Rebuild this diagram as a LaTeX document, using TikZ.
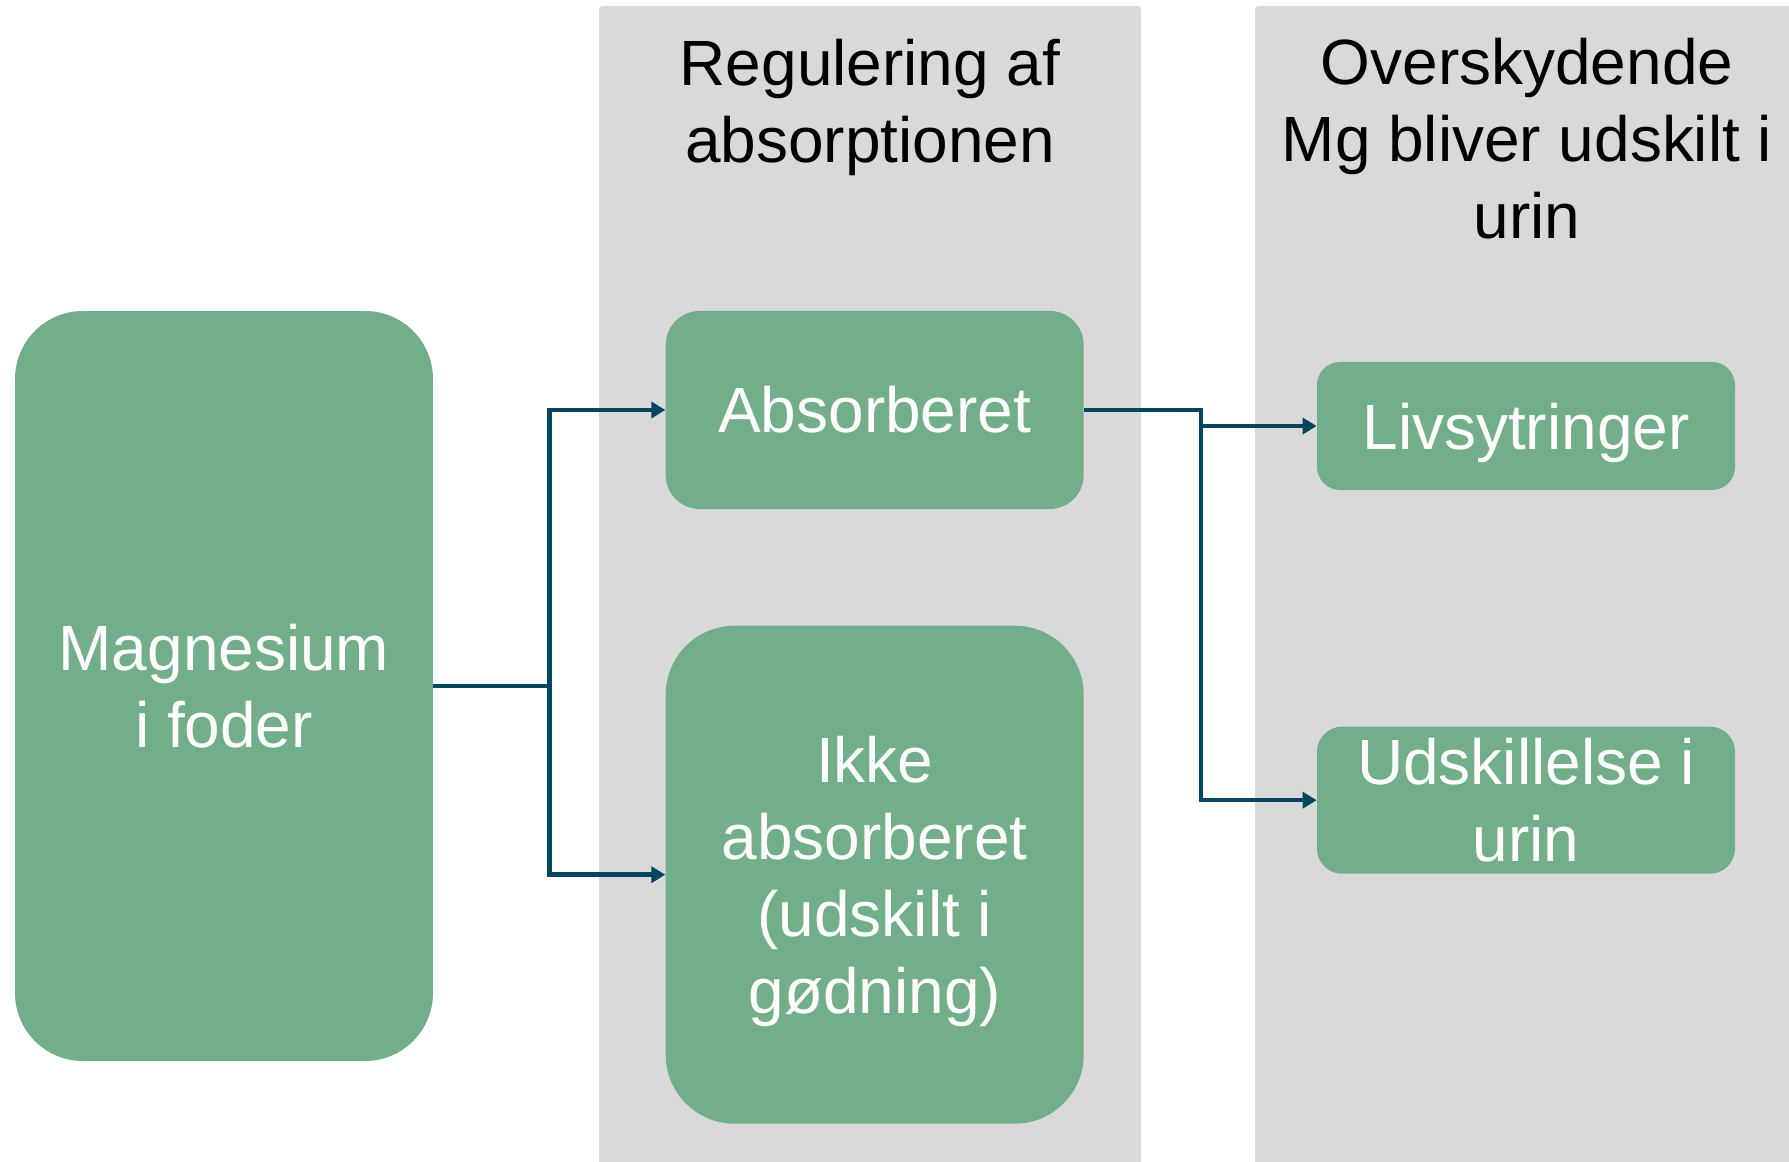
\documentclass[tikz,border=0pt]{standalone}
\usepackage{fontspec}
\setmainfont{Liberation Sans}
\usetikzlibrary{positioning, arrows.meta}
\definecolor{mggreen}{RGB}{114,174,138}
\definecolor{colgray}{RGB}{217,217,217}
\definecolor{darkteal}{RGB}{5,70,95}
\newcommand{\diagfont}{\fontsize{36.4}{43.8}\selectfont}

\begin{document}
\begin{tikzpicture}[
  box/.style={rectangle, fill=mggreen, text=white, minimum width=8.36cm,
              inner sep=0pt, align=center, font=\diagfont},
  hdr/.style={align=center, font=\diagfont},
  arr/.style={-{Triangle[length=0.28cm, width=0.32cm]}, line width=0.09cm, draw=darkteal}
]
  \useasboundingbox (0,0) rectangle (35.78,-23.24);
  \clip (0,0) rectangle (35.78,-23.24);
  \fill[colgray, rounded corners=2pt] (11.98,-0.12) rectangle (22.82,-24);
  \fill[colgray, rounded corners=2pt] (25.10,-0.12) rectangle (36.5,-24);

  \node[hdr] (hdra) at (17.40,-2.14) {Regulering af\\absorptionen};
  \node[hdr] (hdrb) at (30.54,-2.78) {Overskydende\\Mg bliver udskilt i\\urin};

  \node[box, minimum height=15.0cm, rounded corners=1.36cm] (mag) at (4.48,-13.72) {Magnesium\\i foder};
  \node[box, minimum height=3.96cm, rounded corners=0.68cm,
        right=4.64cm of mag.north east, anchor=north west] (abs) {Absorberet};
  \node[box, minimum height=9.96cm, rounded corners=1.38cm, below=2.32cm of abs] (ikke) {Ikke\rule{0pt}{0.93em}\\absorberet\\(udskilt i\\gødning)};
  \node[box, minimum height=2.56cm, rounded corners=0.46cm, text depth=0pt] (liv) at (30.52,-8.52) {Livsytringer};
  \node[box, minimum height=2.94cm, rounded corners=0.5cm, below=4.72cm of liv] (uds) {Udskillelse i\\urin};

  \draw[arr] (mag.east) -- ++(2.32,0) |- (abs.west);
  \draw[arr] (mag.east) -- ++(2.32,0) |- (ikke.west);
  \draw[arr] (abs.east) -- ++(2.34,0) |- (liv.west);
  \draw[arr] (abs.east) -- ++(2.34,0) |- (uds.west);
\end{tikzpicture}
\end{document}
